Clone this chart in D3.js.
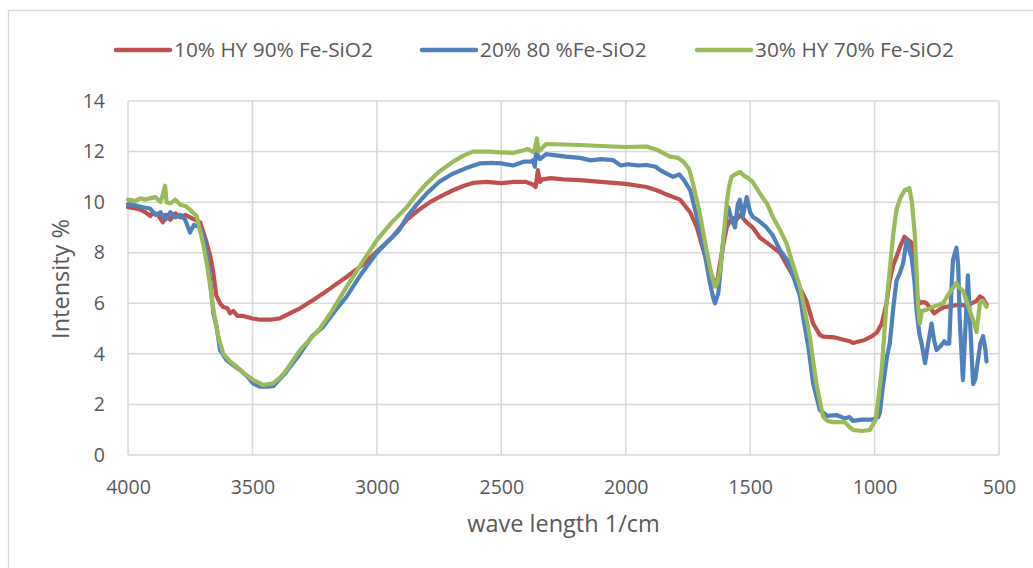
<!DOCTYPE html>
<html>
<head>
<meta charset="utf-8">
<script src="https://cdn.jsdelivr.net/npm/d3@7"></script>
<style>
  html, body { margin: 0; padding: 0; background: #fff; }
  svg { display: block; font-family: "Open Sans", "Noto Sans", sans-serif; }
</style>
</head>
<body>
<svg id="chart" width="1033" height="568"></svg>
<script>
// ---------- DATA ----------
const seriesNames = ["10% HY 90% Fe-SiO2", "20% 80 %Fe-SiO2", "30% HY 70% Fe-SiO2"];
const seriesColors = ["#C0504D", "#4F81BD", "#9BBB59"];
const xTicks = [4000, 3500, 3000, 2500, 2000, 1500, 1000, 500];
const yTicks = [0, 2, 4, 6, 8, 10, 12, 14];

const redWave = [4000,3970,3950,3930,3910,3900,3880,3860,3850,3830,3810,3790,3770,3750,3730,3710,3690,3670,3657,3645,3630,3617,3600,3590,3577,3560,3537,3500,3470,3430,3390,3350,3309,3256,3200,3121,3060,3000,2940,2880,2830,2787,2740,2694,2650,2614,2560,2500,2450,2400,2373,2362,2353,2345,2335,2300,2250,2184,2100,2000,1916,1870,1835,1782,1741,1714,1688,1661,1641,1630,1621,1608,1594,1575,1555,1540,1514,1490,1461,1420,1380,1327,1300,1274,1247,1220,1207,1160,1140,1100,1087,1060,1040,1010,990,971,952,939,925,912,895,880,865,851,840,831,818,805,791,775,760,740,720,685,660,632,610,590,577,565,550];
const redVal  = [9.8,9.75,9.7,9.6,9.45,9.6,9.5,9.2,9.5,9.3,9.55,9.4,9.5,9.4,9.3,9.2,8.6,7.9,7.2,6.3,6.0,5.85,5.8,5.6,5.7,5.5,5.5,5.4,5.35,5.35,5.4,5.6,5.8,6.13,6.5,7.05,7.5,8.05,8.6,9.3,9.7,10.0,10.25,10.47,10.65,10.76,10.8,10.75,10.8,10.8,10.7,10.6,11.27,10.8,10.9,10.95,10.9,10.87,10.8,10.72,10.6,10.45,10.3,10.1,9.6,9.0,8.1,7.3,6.7,7.0,7.6,8.3,9.0,9.4,9.3,9.5,9.2,9.0,8.6,8.3,8.0,7.07,6.6,6.1,5.2,4.75,4.68,4.65,4.6,4.5,4.43,4.5,4.55,4.7,4.85,5.2,6.0,6.9,7.5,7.84,8.3,8.63,8.5,8.4,7.5,6.26,6.0,6.05,6.0,5.8,5.6,5.75,5.85,5.9,5.95,5.9,6.0,6.1,6.27,6.2,5.95];

const blueWave = [4000,3960,3940,3912,3890,3870,3850,3830,3810,3790,3770,3751,3735,3711,3695,3684,3671,3657,3644,3630,3604,3570,3550,3520,3497,3470,3440,3417,3390,3363,3309,3260,3216,3160,3121,3060,3000,2960,2936,2910,2880,2840,2800,2750,2694,2640,2587,2540,2500,2453,2410,2380,2373,2365,2360,2345,2320,2280,2240,2184,2140,2100,2050,2020,1990,1950,1916,1880,1862,1830,1809,1785,1768,1741,1714,1688,1661,1648,1641,1628,1608,1595,1588,1575,1561,1550,1541,1530,1514,1500,1487,1470,1434,1410,1380,1350,1327,1300,1287,1265,1247,1220,1190,1153,1120,1100,1087,1050,1010,985,978,968,958,950,939,925,912,898,885,871,860,851,840,831,820,811,797,785,771,760,751,735,720,711,700,690,685,671,664,658,645,635,625,615,604,595,584,575,564,555,550];
const blueVal  = [9.92,9.85,9.8,9.75,9.5,9.6,9.3,9.6,9.4,9.5,9.3,8.8,9.1,9.0,8.6,8.0,7.0,5.6,5.07,4.15,3.75,3.5,3.36,3.1,2.83,2.7,2.7,2.72,3.0,3.3,4.0,4.7,5.07,5.8,6.27,7.2,8.0,8.4,8.63,8.9,9.4,9.9,10.34,10.8,11.13,11.35,11.53,11.55,11.53,11.45,11.6,11.6,11.66,11.4,12.0,11.7,11.9,11.85,11.8,11.75,11.65,11.7,11.66,11.45,11.5,11.45,11.47,11.4,11.27,11.1,11.0,11.1,10.9,10.48,9.42,8.24,6.79,6.2,6.0,6.4,8.5,9.5,9.8,9.3,9.0,9.9,10.1,9.4,10.2,9.6,9.4,9.3,9.0,8.7,8.1,7.7,7.07,6.3,5.47,4.2,2.84,1.78,1.55,1.58,1.45,1.5,1.35,1.4,1.4,1.5,1.7,2.6,3.3,3.9,4.4,5.8,6.9,7.2,7.6,8.5,8.1,7.8,6.9,5.7,4.8,4.4,3.63,4.4,5.2,4.5,4.15,4.3,4.5,4.4,4.4,6.8,7.7,8.2,7.5,5.4,2.96,5.0,7.1,5.0,2.8,3.0,3.8,4.4,4.7,4.2,3.7];

const greenWave = [4000,3970,3950,3930,3912,3890,3870,3860,3851,3845,3830,3810,3790,3770,3751,3724,3711,3697,3684,3670,3657,3637,3617,3590,3564,3530,3497,3457,3417,3390,3363,3309,3229,3180,3121,3060,3000,2940,2880,2840,2800,2750,2694,2650,2614,2550,2500,2453,2410,2393,2373,2365,2357,2350,2320,2250,2184,2100,2000,1916,1870,1822,1790,1768,1745,1730,1703,1675,1655,1641,1632,1621,1608,1594,1585,1575,1560,1541,1520,1514,1490,1461,1430,1408,1380,1354,1330,1300,1280,1260,1234,1207,1190,1167,1120,1100,1087,1050,1019,995,972,952,926,912,895,878,860,850,838,824,818,810,790,765,740,725,700,685,671,658,645,630,617,600,590,577,565,550];
const greenVal  = [10.1,10.05,10.15,10.1,10.15,10.2,10.0,10.3,10.65,10.0,9.95,10.1,9.9,9.85,9.7,9.45,8.9,8.3,7.6,6.7,5.76,4.68,4.0,3.7,3.5,3.2,2.97,2.77,2.83,3.05,3.36,4.15,5.0,5.7,6.66,7.6,8.5,9.2,9.8,10.3,10.74,11.2,11.6,11.85,12.0,12.0,11.97,11.95,12.05,12.1,11.98,12.1,12.52,12.0,12.3,12.28,12.26,12.22,12.18,12.2,12.05,11.8,11.75,11.6,11.3,10.75,9.57,8.1,7.1,6.66,6.8,7.3,8.5,9.97,10.6,11.0,11.1,11.2,11.0,11.0,10.8,10.35,9.9,9.4,8.9,8.37,7.6,6.66,5.7,4.68,2.83,1.52,1.35,1.3,1.3,1.1,0.99,0.95,0.99,1.4,3.3,6.0,8.66,9.7,10.2,10.48,10.55,10.0,8.66,5.73,5.2,5.7,5.75,5.86,5.95,6.0,6.4,6.6,6.8,6.6,6.5,6.1,5.7,5.2,4.87,6.0,6.1,5.86];

const seriesWaves = [redWave, blueWave, greenWave];
const seriesVals = [redVal, blueVal, greenVal];

// ---------- LAYOUT ----------
const svg = d3.select("#chart");
const L = 128, R = 999, T = 101, B = 455;
const x = d3.scaleLinear().domain([4000, 500]).range([L, R]);
const y = d3.scaleLinear().domain([0, 14]).range([B, T]);

// chart frame
svg.append("rect").attr("x", 8.5).attr("y", 10.5).attr("width", 1040).attr("height", 570)
  .attr("fill", "#fff").attr("stroke", "#d9d9d9").attr("stroke-width", 1.3);

// gridlines
svg.append("g").selectAll("line").data(yTicks).join("line")
  .attr("x1", L).attr("x2", R).attr("y1", d => y(d)).attr("y2", d => y(d))
  .attr("stroke", "#d9d9d9").attr("stroke-width", 1.5);
svg.append("g").selectAll("line").data(xTicks).join("line")
  .attr("y1", T).attr("y2", B).attr("x1", d => x(d)).attr("x2", d => x(d))
  .attr("stroke", "#d9d9d9").attr("stroke-width", 1.5);

// axes labels via d3 axes
const xAxis = svg.append("g").attr("transform", `translate(0,${B})`)
  .call(d3.axisBottom(x).tickValues(xTicks).tickSize(0).tickPadding(25).tickFormat(d3.format("d")));
xAxis.select(".domain").remove();
xAxis.selectAll("text").attr("font-size", 19.5).attr("fill", "#595959").attr("font-family", "Open Sans");

const yAxis = svg.append("g").attr("transform", `translate(${L},0)`)
  .call(d3.axisLeft(y).tickValues(yTicks).tickSize(0).tickPadding(23).tickFormat(d3.format("d")));
yAxis.select(".domain").remove();
yAxis.selectAll("text").attr("font-size", 19.5).attr("fill", "#595959").attr("font-family", "Open Sans");

// axis titles
svg.append("text").attr("x", (L + R) / 2).attr("y", 532).attr("text-anchor", "middle")
  .attr("font-size", 23.5).attr("fill", "#595959").text("wave length 1/cm");
svg.append("text").attr("transform", "translate(69,279) rotate(-90)").attr("text-anchor", "middle")
  .attr("font-size", 23.5).attr("fill", "#595959").text("Intensity %");

// series lines
const line = d3.line().x(d => x(d[0])).y(d => y(d[1]));
seriesNames.forEach((name, i) => {
  const pts = seriesWaves[i].map((w, k) => [w, seriesVals[i][k]]);
  svg.append("path").datum(pts)
    .attr("d", line).attr("fill", "none")
    .attr("stroke", seriesColors[i]).attr("stroke-width", 4.2)
    .attr("stroke-linejoin", "round").attr("stroke-linecap", "round");
});

// legend
const legendX = [116, 422, 697];
const leg = svg.append("g");
seriesNames.forEach((name, i) => {
  const g = leg.append("g").attr("transform", `translate(${legendX[i]},50)`);
  g.append("line").attr("x1", 0).attr("x2", 54).attr("y1", 0).attr("y2", 0)
    .attr("stroke", seriesColors[i]).attr("stroke-width", 4.5).attr("stroke-linecap", "round");
  g.append("text").attr("x", 58).attr("y", 0).attr("dy", "0.35em")
    .attr("font-size", 20.8).attr("fill", "#595959").text(name);
});
</script>
</body>
</html>
